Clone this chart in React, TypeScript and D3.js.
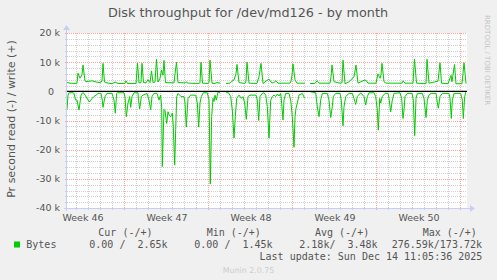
import React from "react";
import * as d3 from "d3";

// ---- data (sample index = 2-hour steps since graph start; values in k bytes/s) ----
const writeT = [0,3,8,10,11,13,15,16,18,19,21,25,29,33,35,36,37.5,40,45,48,51,58,59,60.5,69,70.5,72,74,75,76.5,79,81,83,84.5,86,88,89.5,91,93,94.5,96,97,98.5,107,108,109.5,111,118,119,121,132,133,134,135.5,141,142,143,145,148,150,153,154,159,163,165,167,169,170,172,178,179,180,182,190,192,194,196,199,202,204,206,209,211,223,224,225,226,228,230,238,240,243,248,250,252,263,264,265,267,273,275,276,278,282,287,289,291,297,299,301,309,311,313,314,315,317,319,335,336,338,346,347.5,349.5,359,360,362,371,373,374.5,381,384,385,387.5,389,395,397,399];
const writeV = [3.0,2.8,2.7,2.8,6.2,4.5,5.7,9.0,3.6,3.3,3.4,3.6,3.2,3.0,3.5,9.6,3.2,2.9,2.6,3.2,2.7,2.7,3.6,2.7,2.7,9.6,2.9,3.0,9.6,3.0,2.9,4.0,3.0,7.0,3.0,3.2,11.0,3.2,4.5,7.3,5.5,10.6,3.0,2.9,6.0,10.0,3.0,2.9,3.3,2.8,2.7,3.0,10.0,2.8,2.7,3.0,10.7,2.8,2.7,3.0,2.8,null,2.7,2.8,3.5,3.9,6.0,9.2,3.0,2.7,3.5,10.0,2.8,2.7,5.0,9.6,2.7,3.5,4.2,3.2,2.8,3.6,2.8,2.8,3.5,5.5,9.4,3.9,2.8,2.8,null,2.7,2.7,3.6,2.8,2.8,5.0,9.0,3.3,2.8,3.0,10.7,2.6,3.3,5.0,9.0,2.8,3.8,3.8,2.8,2.8,6.0,4.5,5.7,9.6,3.3,2.8,2.8,3.6,2.8,2.8,11.0,2.8,2.6,11.0,2.8,3.5,9.8,2.8,2.6,5.5,3.3,9.2,2.6,2.6,9.8,2.65];

const readT = [0,1,2,6,7,8.5,10,12,14,15.5,17,22,23,25,27,29,31,34,35.3,36,38,40,45,47,48.3,49.7,50.5,57,58,59.3,61,62.7,63.7,65,67,71,71.5,72.7,74.3,76,80,82,83.7,85,87,90,92,93.7,94.7,95.3,97,98,99.7,101,102,103.7,105.3,106.3,107.7,108.7,109.7,111,114,117,118,119.3,121,123.7,128.7,130.3,131.7,133,134.3,136.3,140.3,142,143.3,144.7,146,147,148,149.3,151,153,154,158.7,162,163.7,165.3,167,168.3,169.7,172,174.3,176,177.7,179.3,181,183,189,190.3,191.7,193,195.3,197,198.7,200.3,202,203.7,205.3,207,208.7,210.3,212,213.7,214.7,216,217,218.7,222,223.7,225.3,227,228,229,230.3,232,235.3,237.7,240,243,248.7,250.3,252,253.7,255.3,260.3,262,263.7,265.3,266.3,268.7,273,274.3,276,277,278.7,282,285.3,287,288.7,290.3,293.7,297,298.7,300.3,302,307,308.7,310.3,311.3,312.7,313.7,315.3,318,321,322,323.7,325.3,327,333,334.7,336,337,338,340.3,345,346.3,347.7,349,350.3,355.3,357,359,360.3,362,364,369,369.7,371.3,373,375.3,382,383,384.3,385.3,387,393.7,395.3,396.3,397.7,399];
const readV = [6.2,1.3,0.5,0.5,0.7,3.0,3.0,6.4,1.3,0.5,0.7,3.5,3.5,2.4,1.8,1.3,0.7,0.7,3.0,5.5,1.8,0.7,0.7,3.0,7.5,0.7,0.5,0.5,2.0,8.7,4.0,1.8,5.5,1.8,0.5,0.5,3.0,6.0,1.8,1.3,0.7,3.0,6.3,1.8,0.7,0.7,3.0,1.3,5.5,25.8,6.2,6.6,11,7,8.1,8.7,7.5,12,25.3,13,1.8,0.7,1.8,1.8,4.0,12.2,2.4,1.3,1.3,4.0,12.2,4.0,1.8,0.5,0.5,3.0,31.8,8.7,2.4,3.5,1.3,3.0,0.2,0.5,null,0.2,0.7,1.8,6.4,16,8.7,2.4,1.3,2.4,1.8,4.0,9.6,1.8,1.3,1.3,3.0,10.0,1.8,0.7,0.5,1.3,5.3,16,3.0,1.8,1.3,1.8,0.9,1.6,0.7,4.1,9.8,3.0,0.7,0.7,3.0,8.7,19.2,8.7,5.8,4.0,1.3,0.7,2.4,null,0.1,0.5,5.3,8.7,3.0,0.7,0.7,3.0,9.0,5.3,1.8,0.7,0.7,3.0,11.8,5.3,1.8,0.7,0.7,2.4,4.5,1.8,0.5,1.8,4.7,1.8,0.5,0.5,1.8,6.4,13.3,2.4,4.0,1.8,0.7,0.7,2.4,7.0,3.0,0.7,0.5,2.4,9.3,6.4,1.8,0.7,0.7,3.0,15.2,2.4,0.7,0.7,2.4,9.0,3.0,1.3,0.7,0.7,2.4,5.8,1.8,0.7,0.7,2.4,9.3,3.0,0.7,0.7,3.0,9.3,1.8,0];

const yTicks = [20, 10, 0, -10, -20, -30, -40];
const weekStarts = [57, 141, 225, 309, 393];
const weekLabelPos = [15, 99, 183, 267, 351];
const weekLabels = ["Week 46", "Week 47", "Week 48", "Week 49", "Week 50"];
const legendHeaders = ["Cur (-/+)", "Min (-/+)", "Avg (-/+)", "Max (-/+)"];
const legendValues = ["0.00 /  2.65k", "0.00 /  1.45k", "2.18k/  3.48k", "276.59k/173.72k"];
const seriesName = "Bytes";
const title = "Disk throughput for /dev/md126 - by month";
const yLabel = "Pr second read (-) / write (+)";
const lastUpdate = "Last update: Sun Dec 14 11:05:36 2025";

const W = 497, H = 280;
const PL = 67, PR = 467, PT = 33, PB = 208;
const GREEN = "#00cc00";
const SANS = "'DejaVu Sans', sans-serif";
const MONO = "'DejaVu Sans Mono', monospace";

export default function App() {
  const x = d3.scaleLinear().domain([0, 400]).range([PL, PR]);
  const y = d3.scaleLinear().domain([-40, 20]).range([PB, PT]);

  const writeData = writeT.map((t, i) => ({ t, v: writeV[i] }));
  const readData = readT.map((t, i) => ({ t, v: readV[i] == null ? null : -readV[i] }));
  const line = d3
    .line<{ t: number; v: number | null }>()
    .defined((d) => d.v != null)
    .x((d) => x(d.t))
    .y((d) => y(d.v as number));

  const minorH = d3.range(-40, 21, 2).filter((v) => v % 10 !== 0);
  const majorH = d3.range(-40, 21, 10);
  const minorV = d3.range(9, 400, 12).filter((s) => !weekStarts.includes(s));

  const colStarts = [89.3, 194.3, 299.3, 391.7];
  const headStarts = [98.3, 206.7, 315, 422.7];

  return (
    <svg
      width={W}
      height={H}
      style={{ position: "absolute", left: 0, top: 0, display: "block" }}
      xmlns="http://www.w3.org/2000/svg"
    >
      <rect x={0} y={0} width={W} height={H} fill="#f0f0f0" />
      <rect x={PL} y={PT} width={PR - PL} height={PB - PT} fill="#ffffff" />

      {/* minor grid */}
      <g stroke="#d0d0d0" strokeWidth={1} strokeDasharray="1,1" shapeRendering="crispEdges">
        {minorH.map((v) => (
          <line key={"mh" + v} x1={PL - 2} x2={PR} y1={Math.round(y(v)) + 0.5} y2={Math.round(y(v)) + 0.5} />
        ))}
        {minorV.map((s) => (
          <line key={"mv" + s} x1={Math.round(x(s)) + 0.5} x2={Math.round(x(s)) + 0.5} y1={PT} y2={PB + 2} />
        ))}
      </g>
      {/* major grid */}
      <g stroke="#ffa1a1" strokeWidth={1} strokeDasharray="1,1" shapeRendering="crispEdges">
        {majorH.map((v) => (
          <line key={"Mh" + v} x1={PL - 2} x2={PR} y1={Math.round(y(v)) + 0.5} y2={Math.round(y(v)) + 0.5} />
        ))}
        {weekStarts.map((s) => (
          <line key={"Mv" + s} x1={Math.round(x(s)) + 0.5} x2={Math.round(x(s)) + 0.5} y1={PT} y2={PB + 2} />
        ))}
      </g>

      {/* data */}
      <path d={line(writeData) || ""} fill="none" stroke={GREEN} strokeWidth={1} strokeLinejoin="round" />
      <path d={line(readData) || ""} fill="none" stroke={GREEN} strokeWidth={1} strokeLinejoin="round" />

      {/* zero rule */}
      <line x1={PL} x2={PR} y1={y(0)} y2={y(0)} stroke="#000" strokeWidth={1.3} />

      {/* axes */}
      <g stroke="#c8cdf5" strokeWidth={1} shapeRendering="crispEdges">
        <line x1={PL - 3} x2={PR + 4} y1={PB + 0.5} y2={PB + 0.5} />
        <line x1={PL - 0.5} x2={PL - 0.5} y1={PB + 3} y2={PT - 4} />
      </g>
      <path d={`M${PR + 3},${PB - 3} L${PR + 8},${PB + 0.5} L${PR + 3},${PB + 4} Z`} fill="#c8cdf5" />
      <path d={`M${PL - 4},${PT - 3} L${PL - 0.5},${PT - 8} L${PL + 3},${PT - 3} Z`} fill="#c8cdf5" />

      {/* y tick labels */}
      <g fontFamily={SANS} fontSize={9.5} fill="#555">
        {yTicks.map((v) => (
          <text key={"yt" + v} x={v === 0 ? 54 : 60} y={y(v) + 3.4} textAnchor="end">
            {v === 0 ? "0" : `${v} k`}
          </text>
        ))}
        {weekLabelPos.map((s, i) => (
          <text key={"wl" + s} x={x(s) + 1} y={220.5} textAnchor="middle">
            {weekLabels[i]}
          </text>
        ))}
      </g>

      {/* title */}
      <text x={248} y={17} textAnchor="middle" fontFamily={SANS} fontSize={12.8} fill="#555">
        {title}
      </text>

      {/* y label */}
      <text
        transform={`translate(14.5,119) rotate(-90)`}
        textAnchor="middle"
        fontFamily={SANS}
        fontSize={11}
        fill="#555"
      >
        {yLabel}
      </text>

      {/* watermark right */}
      <text transform={`translate(485,15) rotate(90)`} fontFamily={SANS} fontSize={7} fill="#c4c4c4">
        RRDTOOL / TOBI OETIKER
      </text>

      {/* legend */}
      <g fontFamily={MONO} fontSize={10} fill="#555" style={{ whiteSpace: "pre" }}>
        {legendHeaders.map((h, i) => (
          <text key={"lh" + i} x={headStarts[i]} y={236} xmlSpace="preserve">
            {h}
          </text>
        ))}
        <rect x={14} y={241.5} width={6} height={6} fill={GREEN} />
        <text x={26.3} y={248}>{seriesName}</text>
        {legendValues.map((v, i) => (
          <text key={"lv" + i} x={colStarts[i]} y={248} xmlSpace="preserve">
            {v}
          </text>
        ))}
        <text x={482.3} y={260} textAnchor="end" xmlSpace="preserve">
          {lastUpdate}
        </text>
      </g>

      <text x={248.5} y={272.5} textAnchor="middle" fontFamily={SANS} fontSize={7.9} fill="#cccccc">
        Munin 2.0.75
      </text>
    </svg>
  );
}
